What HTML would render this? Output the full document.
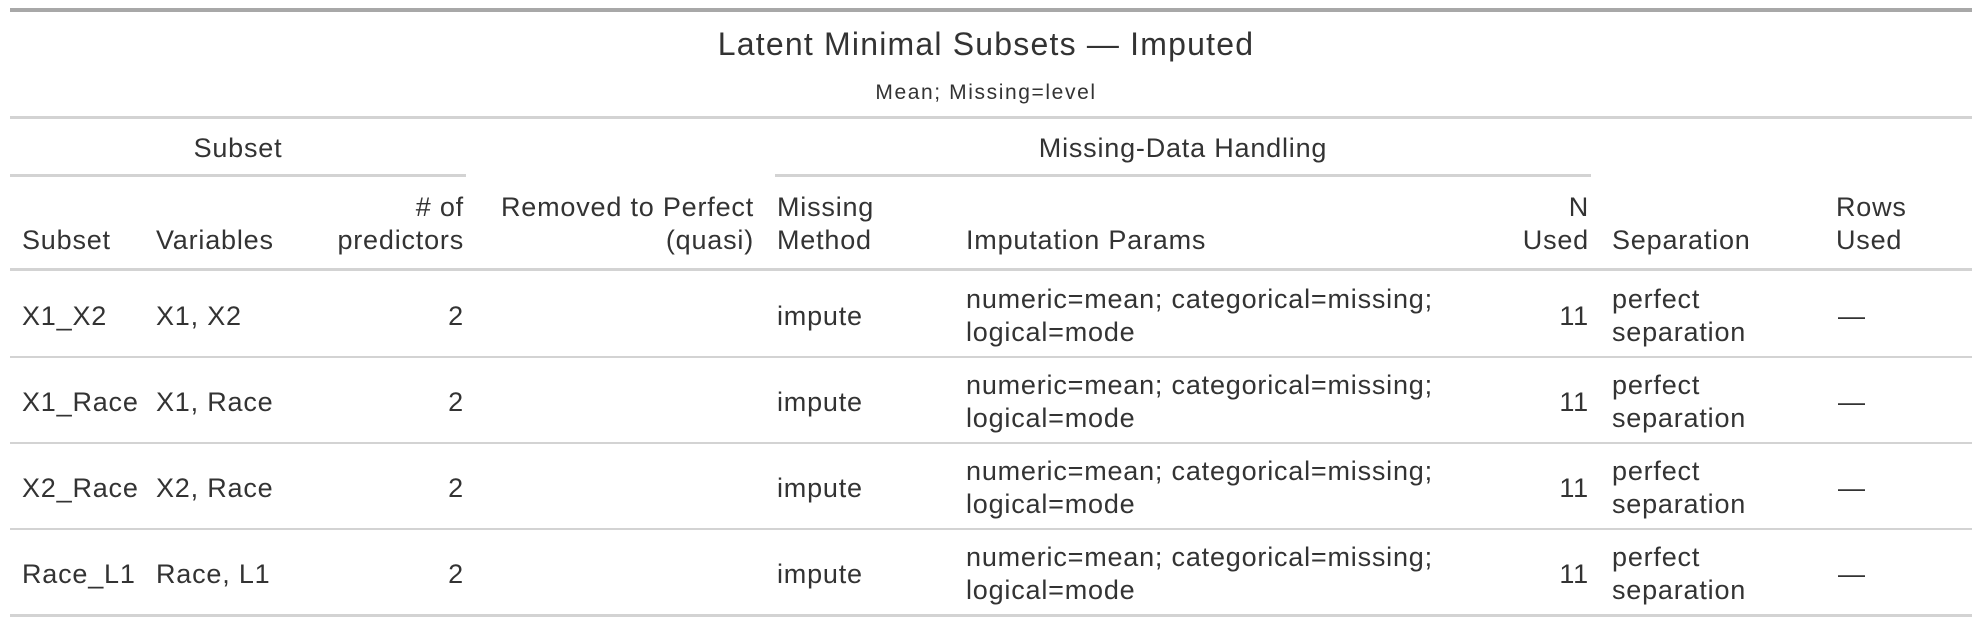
<!DOCTYPE html>
<html><head><meta charset="utf-8"><style>
html,body{margin:0;padding:0;background:#fff;}
body{width:1972px;height:626px;position:relative;overflow:hidden;font-family:"Liberation Sans",sans-serif;color:#333;font-size:27px;letter-spacing:0.8px;}
.t{position:absolute;white-space:nowrap;line-height:33px;}
.r{text-align:right;}
.l{position:absolute;background:#d3d3d3;height:3px;}
</style></head><body>
<div class="l" style="left:10px;width:1962px;top:8px;height:4px;background:#a8a8a8"></div>
<div class="t" style="left:0;width:1972px;text-align:center;top:24px;font-size:32px;line-height:40px;letter-spacing:1.2px">Latent Minimal Subsets — Imputed</div>
<div class="t" style="left:0;width:1972px;text-align:center;top:80px;font-size:21px;line-height:26px;letter-spacing:1.6px">Mean; Missing=level</div>
<div class="l" style="left:10px;width:1962px;top:116px"></div>

<div class="t" style="left:10px;width:456px;text-align:center;top:132px">Subset</div>
<div class="l" style="left:10px;width:456px;top:174px"></div>
<div class="t" style="left:775px;width:816px;text-align:center;top:132px">Missing-Data Handling</div>
<div class="l" style="left:775px;width:816px;top:174px"></div>

<div class="t" style="left:22px;top:224px">Subset</div>
<div class="t" style="left:156px;top:224px">Variables</div>
<div class="t r" style="right:1508px;top:191px">#&nbsp;of<br>predictors</div>
<div class="t r" style="right:1218px;top:191px">Removed to Perfect<br>(quasi)</div>
<div class="t" style="left:777px;top:191px">Missing<br>Method</div>
<div class="t" style="left:966px;top:224px">Imputation Params</div>
<div class="t r" style="right:383px;top:191px">N<br>Used</div>
<div class="t" style="left:1612px;top:224px">Separation</div>
<div class="t" style="left:1836px;top:191px">Rows<br>Used</div>
<div class="l" style="left:10px;width:1962px;top:268px"></div>

<div class="t" style="left:22px;top:300px">X1_X2</div>
<div class="t" style="left:156px;top:300px">X1, X2</div>
<div class="t r" style="right:1508px;top:300px">2</div>
<div class="t" style="left:777px;top:300px">impute</div>
<div class="t" style="left:966px;top:283px">numeric=mean; categorical=missing;<br>logical=mode</div>
<div class="t r" style="right:383px;top:300px">11</div>
<div class="t" style="left:1612px;top:283px">perfect<br>separation</div>
<div class="t" style="left:1838px;top:300px">—</div>
<div class="l" style="left:10px;width:1962px;top:356px;height:2px"></div>

<div class="t" style="left:22px;top:386px">X1_Race</div>
<div class="t" style="left:156px;top:386px">X1, Race</div>
<div class="t r" style="right:1508px;top:386px">2</div>
<div class="t" style="left:777px;top:386px">impute</div>
<div class="t" style="left:966px;top:369px">numeric=mean; categorical=missing;<br>logical=mode</div>
<div class="t r" style="right:383px;top:386px">11</div>
<div class="t" style="left:1612px;top:369px">perfect<br>separation</div>
<div class="t" style="left:1838px;top:386px">—</div>
<div class="l" style="left:10px;width:1962px;top:442px;height:2px"></div>

<div class="t" style="left:22px;top:472px">X2_Race</div>
<div class="t" style="left:156px;top:472px">X2, Race</div>
<div class="t r" style="right:1508px;top:472px">2</div>
<div class="t" style="left:777px;top:472px">impute</div>
<div class="t" style="left:966px;top:455px">numeric=mean; categorical=missing;<br>logical=mode</div>
<div class="t r" style="right:383px;top:472px">11</div>
<div class="t" style="left:1612px;top:455px">perfect<br>separation</div>
<div class="t" style="left:1838px;top:472px">—</div>
<div class="l" style="left:10px;width:1962px;top:528px;height:2px"></div>

<div class="t" style="left:22px;top:558px">Race_L1</div>
<div class="t" style="left:156px;top:558px">Race, L1</div>
<div class="t r" style="right:1508px;top:558px">2</div>
<div class="t" style="left:777px;top:558px">impute</div>
<div class="t" style="left:966px;top:541px">numeric=mean; categorical=missing;<br>logical=mode</div>
<div class="t r" style="right:383px;top:558px">11</div>
<div class="t" style="left:1612px;top:541px">perfect<br>separation</div>
<div class="t" style="left:1838px;top:558px">—</div>
<div class="l" style="left:10px;width:1962px;top:614px"></div>
</body></html>
